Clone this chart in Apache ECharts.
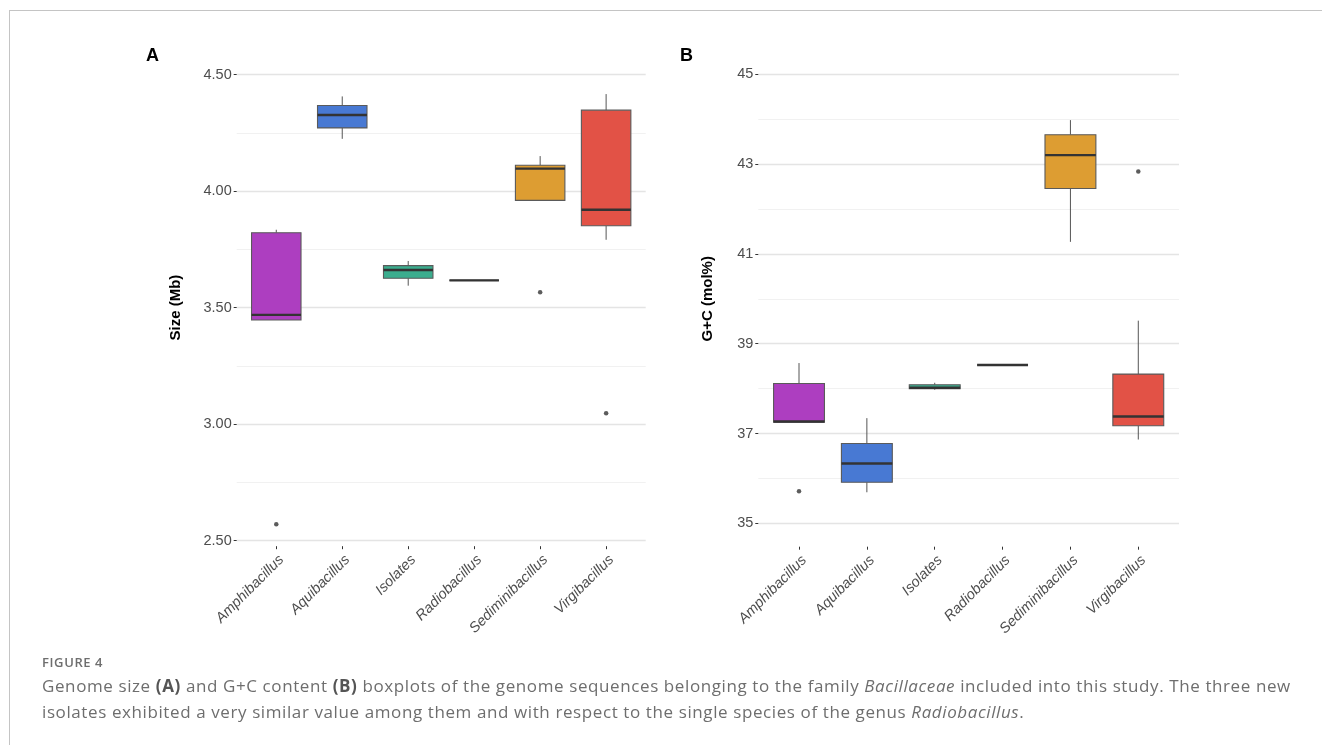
<!DOCTYPE html>
<html>
<head>
<meta charset="utf-8">
<script src="https://cdn.jsdelivr.net/npm/echarts@6/dist/echarts.min.js"></script>
<style>
  html, body { margin: 0; padding: 0; background: #fff; }
  #frame { position: absolute; left: 9px; top: 10px; width: 1320px; height: 734px;
           border-top: 1.5px solid #c4c4c4; border-left: 1.5px solid #c4c4c4; }
  #chart { position: absolute; left: 0; top: 0; width: 1322px; height: 746px; }
  #caption { position: absolute; left: 42px; top: 653px; color: #6e6e6e;
             font-family: "Open Sans", sans-serif; white-space: nowrap; }
  #caption .fig { font-size: 13px; font-weight: 600; letter-spacing: 0.6px; line-height: 18px; }
  #caption .txt { font-size: 17px; letter-spacing: 0.6px; line-height: 26px; margin-top: 2px; }
  #caption b { font-weight: 700; color: #555; }
</style>
</head>
<body>
<div id="frame"></div>
<div id="chart"></div>
<div id="caption">
  <div class="fig">FIGURE 4</div>
  <div class="txt">Genome size <b>(A)</b> and G+C content <b>(B)</b> boxplots of the genome sequences belonging to the family <i>Bacillaceae</i> included into this study. The three new<br>isolates exhibited a very similar value among them and with respect to the single species of the genus <i>Radiobacillus</i>.</div>
</div>
<script>
// Genera on the x axis (same order in both panels)
const genera = ['Amphibacillus', 'Aquibacillus', 'Isolates', 'Radiobacillus', 'Sediminibacillus', 'Virgibacillus'];
const boxColors = ['#ad3ec0', '#4879d3', '#3bad8e', '#8a8a8a', '#dd9d32', '#e25246'];

// Genome size (Mb): [lower whisker, Q1, median, Q3, upper whisker]
const sizeStats = [
  [3.447, 3.447, 3.469, 3.821, 3.834],
  [4.224, 4.271, 4.326, 4.367, 4.406],
  [3.594, 3.626, 3.661, 3.680, 3.700],
  [3.617, 3.617, 3.617, 3.617, 3.617],
  [3.960, 3.960, 4.096, 4.111, 4.150],
  [3.791, 3.851, 3.920, 4.347, 4.416]
];
// Genome size outliers: [genus index, value]
const sizeOutliers = [[0, 2.571], [4, 3.566], [5, 3.047]];

// G+C content (mol%): [lower whisker, Q1, median, Q3, upper whisker]
const gcStats = [
  [37.253, 37.253, 37.268, 38.115, 38.569],
  [35.691, 35.914, 36.331, 36.777, 37.342],
  [37.974, 37.996, 38.019, 38.086, 38.130],
  [38.524, 38.524, 38.524, 38.524, 38.524],
  [41.268, 42.457, 43.200, 43.654, 43.980],
  [36.866, 37.171, 37.379, 38.323, 39.513]
];
// G+C outliers: [genus index, value]
const gcOutliers = [[0, 35.714], [5, 42.836]];

// Axis settings
const sizeAxis = { min: 2.5, max: 4.5, step: 0.5, digits: 2, name: 'Size (Mb)' };
const gcAxis = { min: 35, max: 45, step: 2, digits: 0, name: 'G+C (mol%)' };
const genusIdx = genera.map((_, i) => i);

const chart = echarts.init(document.getElementById('chart'), null, { renderer: 'canvas' });

function boxRenderer(params, api) {
  const i = api.value(0);
  const lo = api.coord([i, api.value(1)]);
  const q1 = api.coord([i, api.value(2)]);
  const md = api.coord([i, api.value(3)]);
  const q3 = api.coord([i, api.value(4)]);
  const hi = api.coord([i, api.value(5)]);
  const w = api.size([0.75, 0])[0];
  const x = lo[0];
  const line = { stroke: '#555', lineWidth: 1 };
  return {
    type: 'group',
    children: [
      { type: 'line', shape: { x1: x, y1: hi[1], x2: x, y2: q3[1] }, style: line },
      { type: 'line', shape: { x1: x, y1: q1[1], x2: x, y2: lo[1] }, style: line },
      { type: 'rect', shape: { x: x - w / 2, y: q3[1], width: w, height: q1[1] - q3[1] },
        style: { fill: boxColors[params.dataIndex], stroke: '#5a5a5a', lineWidth: 1.1 } },
      { type: 'line', shape: { x1: x - w / 2, y1: md[1], x2: x + w / 2, y2: md[1] },
        style: { stroke: '#333', lineWidth: 2.4 } }
    ]
  };
}

function xAxisCfg(gridIndex, offset) {
  return {
    type: 'value', gridIndex, min: -0.6, max: 5.6, offset,
    axisLine: { show: false, onZero: false },
    splitLine: { show: false },
    axisTick: { show: true, customValues: genusIdx, length: 3, lineStyle: { color: '#333', width: 1 } },
    axisLabel: {
      customValues: genusIdx, rotate: 45, margin: 6,
      formatter: v => genera[Math.round(v)],
      fontFamily: 'Liberation Sans, Arial, sans-serif', fontStyle: 'italic',
      fontSize: 14.5, color: '#4d4d4d', align: 'right', verticalAlign: 'top'
    }
  };
}

function yAxisCfg(gridIndex, ax, nameGap) {
  return {
    type: 'value', gridIndex, min: ax.min, max: ax.max, interval: ax.step,
    name: ax.name, nameLocation: 'middle', nameGap,
    nameTextStyle: { fontFamily: 'Liberation Sans, Arial, sans-serif', fontWeight: 'bold', fontSize: 15, color: '#000' },
    axisLine: { show: false, onZero: false },
    axisTick: { show: true, length: 3, lineStyle: { color: '#333', width: 1 } },
    axisLabel: {
      formatter: v => v.toFixed(ax.digits), margin: 5,
      fontFamily: 'Liberation Sans, Arial, sans-serif', fontSize: 14.5, color: '#4d4d4d'
    },
    splitLine: { show: true, lineStyle: { color: '#e4e4e4', width: 1.4 } },
    minorTick: { show: false, splitNumber: 2 },
    minorSplitLine: { show: true, lineStyle: { color: '#f1f1f1', width: 1 } }
  };
}

function boxSeries(idx, stats) {
  return {
    type: 'custom', xAxisIndex: idx, yAxisIndex: idx, clip: false,
    renderItem: boxRenderer,
    encode: { x: 0, y: [1, 2, 3, 4, 5] },
    data: stats.map((s, i) => [i].concat(s)),
    z: 2
  };
}

function outlierSeries(idx, pts) {
  return {
    type: 'scatter', xAxisIndex: idx, yAxisIndex: idx,
    symbol: 'circle', symbolSize: 4.5,
    itemStyle: { color: '#333' },
    data: pts, z: 3
  };
}

chart.setOption({
  animation: false,
  backgroundColor: 'transparent',
  grid: [
    { left: 236.7, top: 74.5, width: 409, height: 466.2 },
    { left: 758.3, top: 74.3, width: 420.7, height: 449 }
  ],
  xAxis: [xAxisCfg(0, 5.5), xAxisCfg(1, 23.4)],
  yAxis: [yAxisCfg(0, sizeAxis, 53), yAxisCfg(1, gcAxis, 43)],
  series: [
    boxSeries(0, sizeStats), outlierSeries(0, sizeOutliers),
    boxSeries(1, gcStats), outlierSeries(1, gcOutliers)
  ],
  graphic: [
    { type: 'text', left: 146, top: 47, style: { text: 'A', font: 'bold 18px "Liberation Sans", Arial, sans-serif', fill: '#000' } },
    { type: 'text', left: 680, top: 47, style: { text: 'B', font: 'bold 18px "Liberation Sans", Arial, sans-serif', fill: '#000' } }
  ]
});
</script>
</body>
</html>
